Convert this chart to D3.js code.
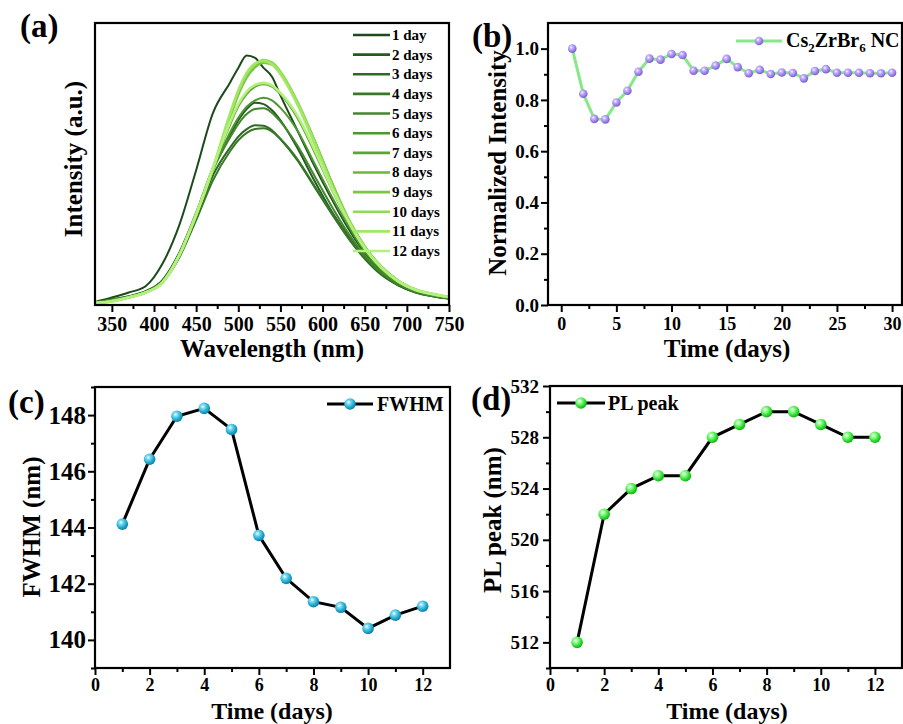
<!DOCTYPE html>
<meta charset="utf-8">
<style>
body { margin: 0; background: #fff; }
svg text { font-family: "Liberation Serif", "Times New Roman", serif; font-weight: bold; fill: #000; }
.tick line { stroke: #000; stroke-width: 2; }
.tick text { font-family: "Liberation Serif", "Times New Roman", serif; font-weight: bold; fill: #000; }
</style>
<body>
<script src="https://cdn.jsdelivr.net/npm/d3@7"></script>
<script>

// ---------- data ----------
// (a) PL spectra (intensity in a.u.)
var wavelengths = [330,350,370,390,410,430,450,470,490,500,510,520,530,540,550,570,590,610,630,650,670,690,710,730,750];
var dayLabels = ["1 day","2 days","3 days","4 days","5 days","6 days","7 days","8 days","9 days","10 days","11 days","12 days"];
var spec1  = [.012,.03,.05,.075,.165,.32,.54,.77,.89,.95,1.0,.99,.95,.915,.84,.70,.56,.43,.31,.21,.135,.085,.055,.038,.028];
var spec2  = [.01,.022,.035,.055,.10,.21,.37,.55,.68,.74,.785,.81,.805,.78,.74,.63,.50,.38,.28,.19,.125,.08,.052,.036,.026];
var spec3  = [.01,.02,.033,.052,.095,.20,.35,.52,.63,.675,.705,.72,.718,.70,.665,.58,.475,.37,.27,.185,.12,.078,.05,.035,.025];
var spec4  = [.01,.02,.032,.05,.09,.19,.34,.50,.615,.66,.69,.705,.708,.695,.665,.585,.48,.375,.275,.19,.125,.08,.052,.036,.026];
var spec5  = [.01,.022,.034,.053,.097,.205,.36,.54,.67,.725,.765,.785,.788,.77,.735,.64,.52,.40,.29,.20,.13,.084,.054,.037,.027];
var spec6  = [.009,.02,.032,.05,.093,.20,.36,.545,.69,.75,.795,.82,.83,.82,.79,.70,.57,.44,.32,.215,.14,.09,.058,.04,.029];
var spec7  = [.009,.018,.03,.05,.092,.20,.36,.55,.72,.795,.845,.875,.885,.875,.845,.75,.615,.47,.335,.225,.148,.095,.06,.042,.03];
var spec8  = [.008,.016,.03,.05,.09,.20,.36,.545,.75,.845,.915,.958,.975,.965,.93,.815,.665,.50,.35,.235,.153,.097,.062,.043,.031];
var spec9  = [.008,.016,.03,.05,.09,.198,.358,.54,.745,.84,.91,.952,.97,.962,.93,.815,.665,.50,.352,.236,.154,.098,.063,.044,.031];
var spec10 = [.008,.015,.03,.05,.09,.20,.36,.545,.76,.855,.925,.965,.982,.972,.935,.815,.66,.49,.345,.23,.15,.095,.062,.045,.032];
var spec11 = [.008,.015,.03,.05,.09,.20,.365,.55,.765,.86,.93,.968,.978,.965,.925,.805,.65,.485,.34,.228,.148,.094,.061,.044,.032];
var spec12 = [.008,.015,.03,.05,.09,.20,.362,.55,.73,.805,.855,.882,.89,.88,.85,.76,.625,.475,.34,.228,.15,.095,.061,.044,.032];
var spectra = [spec1,spec2,spec3,spec4,spec5,spec6,spec7,spec8,spec9,spec10,spec11,spec12];
var dayColors = ["#1c4a1c","#245a20","#2e6a25","#387928","#43882b","#4e962f","#5aa532","#6cb83b","#7bc741","#92da56","#a2e766","#b3f17c"];

// (b) normalized intensity over 30 days
var stabDays = [1,2,3,4,5,6,7,8,9,10,11,12,13,14,15,16,17,18,19,20,21,22,23,24,25,26,27,28,29,30];
var stabValues = [1.0,.824,.726,.724,.790,.836,.910,.961,.957,.979,.975,.914,.914,.934,.960,.928,.904,.917,.901,.907,.905,.884,.913,.920,.906,.906,.906,.904,.904,.906];

// (c) FWHM and (d) PL peak over 12 days
var days = [1,2,3,4,5,6,7,8,9,10,11,12];
var fwhm = [144.12,146.43,147.96,148.24,147.49,143.72,142.19,141.36,141.16,140.41,140.88,141.2];
var plPeak = [512,522,524,525,525,528,529,530,530,529,528,528];

// ---------- svg ----------
var svg = d3.select("body").append("svg").attr("width", 903).attr("height", 724);
var defs = svg.append("defs");

function ballGradient(id, light, mid, dark) {
    var gr = defs.append("radialGradient").attr("id", id)
        .attr("cx", "38%").attr("cy", "35%").attr("r", "65%");
    gr.append("stop").attr("offset", "0%").attr("stop-color", "#ffffff");
    gr.append("stop").attr("offset", "25%").attr("stop-color", light);
    gr.append("stop").attr("offset", "70%").attr("stop-color", mid);
    gr.append("stop").attr("offset", "100%").attr("stop-color", dark);
}
ballGradient("ballPurple", "#c8b8ff", "#9a80ea", "#7a5fd0");
ballGradient("ballCyan", "#7fdcf0", "#1ea8cf", "#1480a6");
ballGradient("ballGreen", "#9dff9d", "#2ee02e", "#16b016");

// scales
var xA = d3.scaleLinear().domain([330, 750]).range([95, 449]);
var yA = d3.scaleLinear().domain([0, 1.13]).range([305, 23]);
var xB = d3.scaleLinear().domain([-1.2, 30.9]).range([548, 902]);
var yB = d3.scaleLinear().domain([0, 1.1]).range([305, 23]);
var xC = d3.scaleLinear().domain([0, 13]).range([95, 450]);
var yC = d3.scaleLinear().domain([139, 149]).range([668, 387]);
var xD = d3.scaleLinear().domain([0, 13]).range([550, 902]);
var yD = d3.scaleLinear().domain([510, 532]).range([668, 386]);

function bottomAxis(x, y0, major, minor, fmt, fs, pad) {
    var g = svg.append("g").attr("transform", "translate(0," + y0 + ")");
    g.append("g").call(d3.axisBottom(x).tickValues(minor).tickSize(4).tickFormat(""))
        .call(function(s){ s.select(".domain").remove(); });
    g.append("g").call(d3.axisBottom(x).tickValues(major).tickSize(7).tickPadding(pad).tickFormat(fmt))
        .call(function(s){ s.select(".domain").remove(); })
        .selectAll("text").style("font-size", fs + "px");
}
function leftAxis(y, x0, major, minor, fmt, fs, pad) {
    var g = svg.append("g").attr("transform", "translate(" + x0 + ",0)");
    g.append("g").call(d3.axisLeft(y).tickValues(minor).tickSize(4).tickFormat(""))
        .call(function(s){ s.select(".domain").remove(); });
    g.append("g").call(d3.axisLeft(y).tickValues(major).tickSize(7).tickPadding(pad).tickFormat(fmt))
        .call(function(s){ s.select(".domain").remove(); })
        .selectAll("text").style("font-size", fs + "px");
}
function frame(x, y) {
    svg.append("rect")
        .attr("x", x.range()[0]).attr("y", y.range()[1])
        .attr("width", x.range()[1] - x.range()[0])
        .attr("height", y.range()[0] - y.range()[1])
        .attr("fill", "none").attr("stroke", "#000").attr("stroke-width", 2.2);
}
function ytitle(txt, x, y, fs) {
    svg.append("text").attr("transform", "translate(" + x + "," + y + ") rotate(-90)")
        .attr("text-anchor", "middle").style("font-size", fs + "px").text(txt);
}
function xtitle(txt, x, y, fs) {
    svg.append("text").attr("x", x).attr("y", y)
        .attr("text-anchor", "middle").style("font-size", fs + "px").text(txt);
}
function tag(txt, x, y) {
    svg.append("text").attr("x", x).attr("y", y).style("font-size", "33px").text(txt);
}

// ---------- (a) spectra ----------
var lineA = d3.line().curve(d3.curveMonotoneX)
    .x(function(d, i){ return xA(wavelengths[i]); })
    .y(function(d){ return yA(d); });
svg.append("g").selectAll("path").data(spectra).enter().append("path")
    .attr("d", lineA).attr("fill", "none")
    .attr("stroke", function(d, i){ return dayColors[i]; })
    .attr("stroke-width", function(d, i){ return i >= 9 ? 2.6 : 2; });

bottomAxis(xA, 305, d3.range(350, 751, 50), d3.range(375, 750, 50), d3.format("d"), 20, 5);
frame(xA, yA);

var legA = svg.append("g");
dayLabels.forEach(function(lab, i) {
    var yy = 35 + i * 19.64;
    legA.append("line").attr("x1", 353).attr("x2", 390).attr("y1", yy).attr("y2", yy)
        .attr("stroke", dayColors[i]).attr("stroke-width", 2.6);
    legA.append("text").attr("x", 392).attr("y", yy + 5).style("font-size", "15px").text(lab);
});
xtitle("Wavelength (nm)", 272, 357, 25);
ytitle("Intensity (a.u.)", 82, 159, 25);
tag("(a)", 20, 37);

// ---------- (b) stability ----------
var lineB = d3.line().x(function(d, i){ return xB(stabDays[i]); }).y(function(d){ return yB(d); });
svg.append("path").datum(stabValues).attr("d", lineB)
    .attr("fill", "none").attr("stroke", "#86e886").attr("stroke-width", 3);
svg.append("g").selectAll("circle").data(stabValues).enter().append("circle")
    .attr("cx", function(d, i){ return xB(stabDays[i]); })
    .attr("cy", function(d){ return yB(d); })
    .attr("r", 4.3).attr("fill", "url(#ballPurple)");

bottomAxis(xB, 305, d3.range(0, 31, 5), d3.range(2.5, 30, 5), d3.format("d"), 18, 5);
leftAxis(yB, 548, d3.range(0, 1.01, 0.2), d3.range(0.1, 1.1, 0.2), d3.format(".1f"), 19, 2);
frame(xB, yB);

svg.append("line").attr("x1", 736).attr("x2", 782).attr("y1", 41).attr("y2", 41)
    .attr("stroke", "#86e886").attr("stroke-width", 3);
svg.append("circle").attr("cx", 759).attr("cy", 41).attr("r", 4.3).attr("fill", "url(#ballPurple)");
var legB = svg.append("text").attr("x", 786).attr("y", 47).style("font-size", "20px");
legB.append("tspan").text("Cs");
legB.append("tspan").attr("dy", 5).style("font-size", "13px").text("2");
legB.append("tspan").attr("dy", -5).text("ZrBr");
legB.append("tspan").attr("dy", 5).style("font-size", "13px").text("6");
legB.append("tspan").attr("dy", -5).text(" NC");

xtitle("Time (days)", 727, 357, 25);
ytitle("Normalized Intensity", 506, 163, 25);
tag("(b)", 472, 47);

// ---------- (c) FWHM ----------
var lineC = d3.line().x(function(d, i){ return xC(days[i]); }).y(function(d){ return yC(d); });
svg.append("path").datum(fwhm).attr("d", lineC)
    .attr("fill", "none").attr("stroke", "#000").attr("stroke-width", 3);
svg.append("g").selectAll("circle").data(fwhm).enter().append("circle")
    .attr("cx", function(d, i){ return xC(days[i]); })
    .attr("cy", function(d){ return yC(d); })
    .attr("r", 5.8).attr("fill", "url(#ballCyan)");

bottomAxis(xC, 668, d3.range(0, 13, 2), d3.range(1, 13, 2), d3.format("d"), 18, 3);
leftAxis(yC, 95, d3.range(140, 149, 2), d3.range(139, 150, 2), d3.format("d"), 25, 2);
frame(xC, yC);

svg.append("line").attr("x1", 327).attr("x2", 373).attr("y1", 404).attr("y2", 404)
    .attr("stroke", "#000").attr("stroke-width", 3);
svg.append("circle").attr("cx", 350).attr("cy", 404).attr("r", 5.8).attr("fill", "url(#ballCyan)");
svg.append("text").attr("x", 377).attr("y", 411).style("font-size", "20px").text("FWHM");

xtitle("Time (days)", 272, 719, 24);
ytitle("FWHM (nm)", 40, 527, 25);
tag("(c)", 8, 413);

// ---------- (d) PL peak ----------
var lineD = d3.line().x(function(d, i){ return xD(days[i]); }).y(function(d){ return yD(d); });
svg.append("path").datum(plPeak).attr("d", lineD)
    .attr("fill", "none").attr("stroke", "#000").attr("stroke-width", 3);
svg.append("g").selectAll("circle").data(plPeak).enter().append("circle")
    .attr("cx", function(d, i){ return xD(days[i]); })
    .attr("cy", function(d){ return yD(d); })
    .attr("r", 5.8).attr("fill", "url(#ballGreen)");

bottomAxis(xD, 668, d3.range(0, 13, 2), d3.range(1, 13, 2), d3.format("d"), 18, 3);
leftAxis(yD, 550, d3.range(512, 533, 4), d3.range(510, 533, 4), d3.format("d"), 19, 4);
frame(xD, yD);

svg.append("line").attr("x1", 557).attr("x2", 605).attr("y1", 403).attr("y2", 403)
    .attr("stroke", "#000").attr("stroke-width", 3);
svg.append("circle").attr("cx", 581).attr("cy", 403).attr("r", 5.8).attr("fill", "url(#ballGreen)");
svg.append("text").attr("x", 608).attr("y", 410).style("font-size", "20px").text("PL peak");

xtitle("Time (days)", 727, 719, 24);
ytitle("PL peak (nm)", 501, 520, 25);
tag("(d)", 471, 410);

</script>
</body>
